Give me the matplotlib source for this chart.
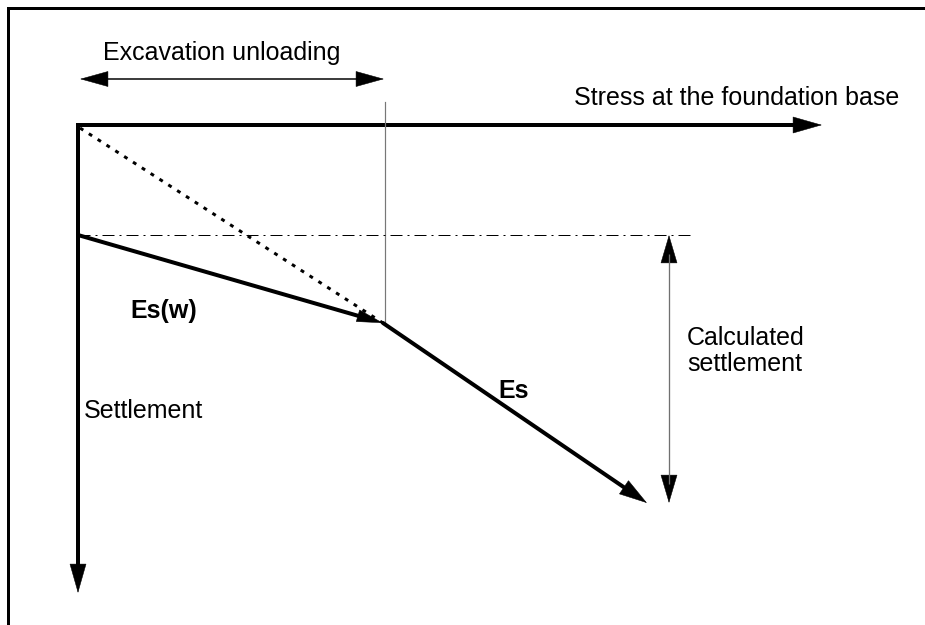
import numpy as np
import matplotlib.pyplot as plt
from matplotlib.patches import FancyArrowPatch

# key points of the sketch, in figure pixels (y grows downward)
origin = (78, 125)
stress_tip = (822, 125)
settle_tip = (78, 593)
knee = (383, 323)
esw_start = (78, 235)
es_tip = (647, 503)
dotted_start = (80, 128)
excav_y = 79
excav_x = [80, 384]
boundary_x = 385
boundary_y = [102, 323]
level_y = 235
level_x = [78, 695]
calc_x = 669
calc_y = [235, 503]

labels = {
    "excav": "Excavation unloading",
    "stress": "Stress at the foundation base",
    "settle": "Settlement",
    "esw": "Es(w)",
    "es": "Es",
    "calc": "Calculated\nsettlement",
}

PX = 0.72  # points per pixel at dpi 100

plt.rcParams['font.family'] = ['Liberation Sans', 'DejaVu Sans']

fig = plt.figure(figsize=(9.25, 6.25), dpi=100)
ax = fig.add_axes([0, 0, 1, 1])
ax.set_xlim(0, 925)
ax.set_ylim(625, 0)
ax.axis('off')


def head(tip, u, hl, hw):
    # filled triangular head ending exactly at tip
    tip = np.asarray(tip, float)
    base = tip - u * hl
    style = '-|>,head_length=%.2f,head_width=%.2f' % (hl * PX, hw * PX)
    ax.add_patch(FancyArrowPatch(tuple(base), tuple(tip), arrowstyle=style,
                                 mutation_scale=1, lw=0.5 * PX, color='black',
                                 shrinkA=0, shrinkB=0, joinstyle='miter'))


def arrow(start, end, lw, color='black', hl=27, hw=8, both=False, cap='butt'):
    s = np.asarray(start, float)
    e = np.asarray(end, float)
    u = (e - s) / np.hypot(*(e - s))
    a = s + u * hl * 0.7 if both else s
    b = e - u * hl * 0.7
    ax.plot([a[0], b[0]], [a[1], b[1]], color=color, lw=lw * PX, solid_capstyle=cap)
    head(e, u, hl, hw)
    if both:
        head(s, -u, hl, hw)


# frame
ax.plot([8, 8, 925], [625, 8, 8], color='black', lw=3 * PX, solid_joinstyle='miter')

# axes of the diagram (one polyline for a clean corner)
ax.plot([origin[0], origin[0], stress_tip[0] - 18],
        [settle_tip[1] - 18, origin[1], origin[1]],
        color='black', lw=4 * PX, solid_joinstyle='miter', solid_capstyle='butt')
head(stress_tip, np.array([1.0, 0.0]), 28, 8)
head(settle_tip, np.array([0.0, 1.0]), 28, 8)

# excavation unloading range
arrow((excav_x[0], excav_y), (excav_x[1], excav_y), 1.5, hl=27, hw=7.5, both=True)
ax.plot([boundary_x, boundary_x], boundary_y, color='#777777', lw=1.2 * PX)

# dash-dot reference level
ax.plot(level_x, [level_y, level_y], color='black', lw=1 * PX,
        linestyle=(0, (12, 5, 2, 5)))

# dotted line and the two stiffness branches
ax.plot([dotted_start[0], knee[0]], [dotted_start[1], knee[1]], color='black',
        lw=3 * PX, linestyle=(0, (1.3, 2.2)))
arrow(esw_start, knee, 4, hl=25, hw=6)
arrow(knee, es_tip, 4, hl=27, hw=8, cap='round')

# calculated settlement
arrow((calc_x, calc_y[0]), (calc_x, calc_y[1]), 1.3, color='#707070', hl=27, hw=8, both=True)

fs = 18
ax.text(103, 60, labels["excav"], fontsize=fs, ha='left', va='baseline')
ax.text(899, 105, labels["stress"], fontsize=fs, ha='right', va='baseline')
ax.text(84, 418, labels["settle"], fontsize=fs, ha='left', va='baseline')
ax.text(130, 318, labels["esw"], fontsize=fs, ha='left', va='baseline', fontweight='bold')
ax.text(498, 398, labels["es"], fontsize=fs, ha='left', va='baseline', fontweight='bold')
ax.text(687, 326, labels["calc"], fontsize=fs, ha='left', va='top', linespacing=1.1)

fig.savefig('out.png', dpi=100)
